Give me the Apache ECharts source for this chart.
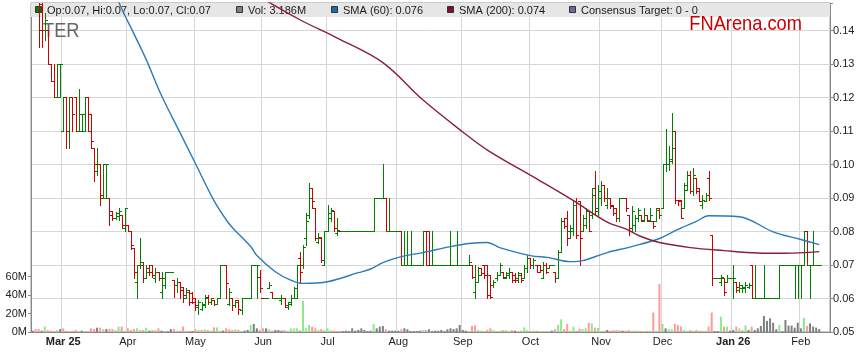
<!DOCTYPE html>
<html><head><meta charset="utf-8">
<script src="https://cdn.jsdelivr.net/npm/echarts@6/dist/echarts.min.js"></script>
<style>html,body{margin:0;padding:0;background:#fff}#c{width:859px;height:363px}</style>
</head><body><div id="c"></div>
<script>
// ---------- data ----------
const START_DATE = '2025-02-17';   // first weekday on the axis
const N_DAYS = 260;                // weekdays on the axis (last 3 empty)
const monthLabels = {
  '2025-03': 'Mar 25', '2025-04': 'Apr', '2025-05': 'May', '2025-06': 'Jun',
  '2025-07': 'Jul', '2025-08': 'Aug', '2025-09': 'Sep', '2025-10': 'Oct',
  '2025-11': 'Nov', '2025-12': 'Dec', '2026-01': 'Jan 26', '2026-02': 'Feb'
};
const boldMonths = ['Mar 25', 'Jan 26'];

// [open, high, low, close]
const ohlc = [
[0.160,0.165,0.155,0.158],[0.158,0.160,0.150,0.152],[0.152,0.155,0.135,0.140],[0.148,0.150,0.135,0.140],[0.140,0.1453,0.1373,0.143],
[0.140,0.140,0.130,0.130],[0.130,0.130,0.125,0.125],[0.125,0.130,0.120,0.120],[0.120,0.130,0.120,0.130],[0.120,0.130,0.120,0.130],
[0.110,0.120,0.110,0.120],[0.120,0.120,0.105,0.110],[0.110,0.120,0.105,0.120],[0.120,0.120,0.110,0.115],[0.120,0.120,0.110,0.110],
[0.110,0.1225,0.110,0.115],[0.110,0.115,0.110,0.115],[0.110,0.120,0.110,0.120],[0.120,0.120,0.110,0.110],[0.115,0.115,0.105,0.107],
[0.105,0.105,0.095,0.100],[0.098,0.105,0.097,0.100],[0.100,0.100,0.088,0.091],[0.090,0.100,0.090,0.100],[0.090,0.100,0.090,0.100],
[0.090,0.090,0.082,0.085],[0.086,0.086,0.0835,0.084],[0.084,0.0858,0.0838,0.0855],[0.0845,0.087,0.0835,0.086],[0.085,0.085,0.081,0.082],
[0.081,0.087,0.080,0.087],[0.082,0.082,0.080,0.080],[0.080,0.080,0.0748,0.076],[0.075,0.075,0.066,0.068],[0.065,0.070,0.060,0.070],
[0.070,0.078,0.069,0.071],[0.070,0.071,0.065,0.066],[0.066,0.070,0.066,0.068],[0.069,0.070,0.067,0.068],[0.070,0.070,0.0665,0.067],
[0.066,0.069,0.065,0.068],[0.068,0.068,0.0655,0.066],[0.062,0.068,0.060,0.066],[0.064,0.068,0.063,0.068],[0.068,0.068,0.068,0.068],
[0.068,0.068,0.068,0.068],[0.0655,0.0655,0.0605,0.064],[0.064,0.066,0.062,0.065],[0.065,0.065,0.060,0.0625],[0.0635,0.0635,0.059,0.061],
[0.060,0.063,0.060,0.062],[0.0625,0.0625,0.058,0.059],[0.0615,0.0618,0.0588,0.059],[0.060,0.060,0.0565,0.058],[0.0575,0.0595,0.0555,0.059],
[0.057,0.059,0.0565,0.0585],[0.058,0.061,0.0575,0.060],[0.0605,0.061,0.0585,0.059],[0.059,0.060,0.0585,0.060],[0.0595,0.0595,0.058,0.0585],
[0.0585,0.060,0.0585,0.060],[0.060,0.070,0.060,0.070],[0.070,0.070,0.070,0.070],[0.070,0.070,0.060,0.0645],[0.0585,0.063,0.058,0.062],
[0.060,0.060,0.0565,0.058],[0.058,0.0595,0.0575,0.059],[0.0595,0.0595,0.0555,0.057],[0.0565,0.060,0.0555,0.060],[0.060,0.060,0.060,0.060],
[0.060,0.060,0.060,0.060],[0.060,0.070,0.060,0.070],[0.070,0.070,0.070,0.070],[0.070,0.070,0.060,0.070],[0.0665,0.0685,0.062,0.063],
[0.060,0.060,0.060,0.060],[0.060,0.060,0.060,0.060],[0.063,0.065,0.063,0.064],[0.062,0.062,0.060,0.060],[0.060,0.060,0.060,0.060],
[0.060,0.060,0.060,0.060],[0.0595,0.061,0.0585,0.060],[0.060,0.060,0.0575,0.058],[0.0575,0.059,0.057,0.0585],[0.059,0.061,0.058,0.060],
[0.060,0.0635,0.060,0.063],[0.060,0.070,0.060,0.070],[0.072,0.074,0.065,0.068],[0.070,0.076,0.069,0.0755],[0.078,0.0855,0.076,0.083],
[0.085,0.0945,0.084,0.090],[0.093,0.093,0.087,0.089],[0.087,0.087,0.0775,0.078],[0.077,0.0795,0.0765,0.0785],[0.078,0.0785,0.071,0.0715],
[0.070,0.080,0.070,0.080],[0.080,0.088,0.080,0.0855],[0.084,0.087,0.083,0.0865],[0.086,0.086,0.080,0.081],[0.0795,0.084,0.079,0.0805],
[0.080,0.080,0.080,0.080],[0.080,0.080,0.080,0.080],[0.080,0.080,0.080,0.080],[0.080,0.080,0.080,0.080],[0.080,0.080,0.080,0.080],
[0.080,0.080,0.080,0.080],[0.080,0.080,0.080,0.080],[0.080,0.080,0.080,0.080],[0.080,0.080,0.080,0.080],[0.080,0.080,0.080,0.080],
[0.080,0.080,0.080,0.080],[0.080,0.090,0.080,0.090],[0.090,0.090,0.090,0.090],[0.090,0.090,0.090,0.090],[0.090,0.100,0.090,0.090],
[0.090,0.090,0.080,0.080],[0.080,0.090,0.080,0.080],[0.080,0.080,0.080,0.080],[0.080,0.080,0.080,0.080],[0.080,0.080,0.080,0.080],
[0.080,0.080,0.070,0.070],[0.070,0.080,0.070,0.070],[0.070,0.080,0.070,0.070],[0.070,0.080,0.070,0.070],[0.070,0.070,0.070,0.070],
[0.070,0.070,0.070,0.070],[0.070,0.070,0.070,0.070],[0.070,0.080,0.070,0.080],[0.080,0.080,0.070,0.070],[0.080,0.080,0.070,0.070],
[0.070,0.080,0.070,0.070],[0.070,0.070,0.070,0.070],[0.070,0.070,0.070,0.070],[0.070,0.070,0.070,0.070],[0.070,0.070,0.070,0.070],
[0.070,0.070,0.070,0.070],[0.070,0.080,0.070,0.070],[0.070,0.070,0.070,0.070],[0.070,0.080,0.070,0.070],[0.070,0.070,0.070,0.070],
[0.070,0.070,0.070,0.070],[0.070,0.070,0.070,0.070],[0.070,0.073,0.070,0.071],[0.070,0.070,0.066,0.0665],[0.062,0.070,0.060,0.065],
[0.065,0.0695,0.065,0.067],[0.069,0.069,0.067,0.0675],[0.070,0.070,0.066,0.067],[0.070,0.070,0.060,0.061],[0.067,0.067,0.060,0.0605],
[0.064,0.0655,0.0635,0.065],[0.066,0.068,0.0655,0.067],[0.067,0.0705,0.067,0.070],[0.068,0.068,0.066,0.0665],[0.066,0.068,0.066,0.0675],
[0.067,0.069,0.066,0.068],[0.068,0.068,0.065,0.0655],[0.067,0.0675,0.065,0.0655],[0.066,0.068,0.065,0.0675],[0.067,0.0675,0.065,0.0655],
[0.066,0.070,0.066,0.069],[0.069,0.073,0.068,0.072],[0.072,0.072,0.069,0.070],[0.070,0.072,0.069,0.0715],[0.070,0.070,0.068,0.068],
[0.070,0.070,0.068,0.0685],[0.066,0.071,0.066,0.070],[0.070,0.0705,0.0675,0.068],[0.069,0.070,0.069,0.070],[0.070,0.070,0.070,0.070],
[0.068,0.068,0.065,0.066],[0.066,0.0745,0.066,0.074],[0.074,0.084,0.074,0.083],[0.083,0.084,0.081,0.0815],[0.084,0.086,0.076,0.078],
[0.080,0.082,0.078,0.081],[0.080,0.089,0.079,0.088],[0.089,0.090,0.078,0.079],[0.089,0.089,0.070,0.078],[0.080,0.085,0.080,0.084],
[0.082,0.087,0.081,0.086],[0.086,0.086,0.080,0.080],[0.085,0.093,0.084,0.091],[0.093,0.098,0.085,0.086],[0.087,0.094,0.085,0.092],
[0.090,0.095,0.088,0.094],[0.094,0.094,0.089,0.090],[0.088,0.093,0.087,0.090],[0.090,0.090,0.087,0.0875],[0.088,0.088,0.085,0.0855],
[0.087,0.087,0.083,0.084],[0.084,0.090,0.083,0.090],[0.090,0.090,0.090,0.090],[0.090,0.090,0.086,0.087],[0.085,0.085,0.079,0.081],
[0.080,0.0875,0.0805,0.086],[0.082,0.085,0.080,0.084],[0.084,0.087,0.083,0.0865],[0.085,0.085,0.083,0.0835],[0.083,0.087,0.083,0.085],
[0.085,0.085,0.083,0.0835],[0.083,0.087,0.083,0.085],[0.083,0.083,0.081,0.0815],[0.083,0.087,0.083,0.0865],[0.087,0.087,0.084,0.085],
[0.087,0.100,0.087,0.100],[0.100,0.1105,0.098,0.100],[0.100,0.1055,0.0985,0.1015],[0.101,0.1155,0.1005,0.105],[0.110,0.110,0.0885,0.0895],
[0.0895,0.0895,0.088,0.089],[0.0895,0.0895,0.084,0.084],[0.087,0.0945,0.087,0.094],[0.0925,0.098,0.0925,0.097],[0.097,0.098,0.0915,0.092],
[0.092,0.099,0.091,0.097],[0.096,0.096,0.0915,0.092],[0.093,0.093,0.089,0.089],[0.088,0.091,0.087,0.0895],[0.089,0.0915,0.0895,0.091],
[0.096,0.098,0.0895,0.090],[0.079,0.079,0.064,0.066],[0.066,0.066,0.066,0.066],[0.066,0.066,0.066,0.066],[0.065,0.067,0.064,0.0665],
[0.066,0.066,0.061,0.062],[0.065,0.067,0.065,0.066],[0.066,0.066,0.066,0.066],[0.066,0.070,0.060,0.066],[0.065,0.065,0.062,0.0635],
[0.0625,0.065,0.062,0.064],[0.063,0.064,0.062,0.0635],[0.063,0.065,0.062,0.064],[0.0635,0.0645,0.063,0.064],[0.070,0.070,0.060,0.060],
[0.060,0.070,0.060,0.060],[0.060,0.060,0.060,0.060],[0.060,0.060,0.060,0.060],[0.060,0.070,0.060,0.060],[0.060,0.060,0.060,0.060],
[0.060,0.060,0.060,0.060],[0.060,0.060,0.060,0.060],[0.060,0.060,0.060,0.060],[0.060,0.070,0.060,0.070],[0.070,0.070,0.070,0.070],
[0.070,0.070,0.070,0.070],[0.070,0.070,0.070,0.070],[0.070,0.070,0.070,0.070],[0.070,0.070,0.060,0.070],[0.070,0.070,0.060,0.070],
[0.070,0.070,0.060,0.070],[0.070,0.080,0.070,0.080],[0.080,0.080,0.070,0.070],[0.070,0.070,0.060,0.070],[0.070,0.080,0.070,0.070],
[0.070,0.070,0.070,0.070],[0.070,0.070,0.070,0.070]
];

// volume in millions, one per trading day
const volumeM = [
1.4,3.2,3.2,1.4,5.8,2.2,1.4,1,2.2,3.2,
4,1.4,1,1.4,2.2,0.8,1.4,0.8,1,4,
3.2,4.7,4.7,3.2,3.2,3.2,3.2,2.2,5.8,5.8,
1.4,4,2.2,3.2,4,2.2,2.2,4.7,1.4,2.2,
2.2,4,1.4,1,0.8,3.2,3.2,1.4,1.4,5.8,
1.4,1.4,1,3,2.2,2.2,3,2.2,1.5,5,
5,1.4,1.5,4,3,2.2,3,2.2,1.2,1.4,
2.2,7.6,8.7,4,2.2,4,4,3,1.5,2.2,
2.2,1.4,2.2,1.4,4,4,4,2,34,4,
7.6,5.8,4,2.2,3.2,2,4,2,1.4,1,
1.4,1,1.4,1,4,1.4,2.2,4,2.2,1,
1.4,8.7,4,5.8,6.5,3,1.4,1.4,1.4,1.4,
3,4,3,1,1,1,1.4,2.2,2.2,3,
1,1.4,1.4,2.2,1,3,4,3.2,4,7.6,
2.2,1.4,1,6.5,7.2,2.2,1.4,1,2.2,4,
2.2,1,1.4,2.2,2.2,1.4,2.2,1.4,1,1.4,
5,2.2,1,1.4,1.4,1,1,1,1,1.4,
3,7.6,13.7,3.2,8.7,1.4,5.8,1.4,3.5,3.2,
4,10,9.4,4.7,4.4,1,1.4,2.2,1.4,2.2,
2.2,2.2,1.4,1.4,2.2,1.4,1.4,1.4,1,1,
1,1.4,21,1.4,52,8.7,4,3,3,8.7,
7.6,5.8,2.2,1.4,2.2,1.4,2.2,1.4,1.4,1.4,
5.8,21,1,1,16.6,5.8,5.8,1.4,2.2,5.8,
4,2.2,7.2,2.2,5.8,2.2,4,6.5,17.3,12,
14.8,10,3,7.6,1,13,6.9,6.9,4.7,10,
4,15.5,6.5,9.4,5.8,4.7,3.186
];

// moving averages: trading-day index and value
const sma60Days = [27,29,33,37,42,48,53,59,63,65,71,73,79,84,88,96,106,110,114,120,127,136,142,148,152,162,168,175,179,187,195,204,210,216,220,230,241,250,256];
const sma60Vals = [0.1510,0.1465,0.1390,0.1313,0.1205,0.1095,0.1003,0.0893,0.0835,0.0812,0.0755,0.0728,0.0680,0.0655,0.0645,0.0650,0.0677,0.0688,0.0707,0.0725,0.0737,0.0755,0.0764,0.0767,0.0752,0.0728,0.0722,0.0710,0.0713,0.0737,0.0755,0.0779,0.0806,0.0830,0.0847,0.0844,0.0799,0.0776,0.0761];
const sma200Days = [74,87,99,114,127,140,148,165,176,187,193,198,204,214,225,236,245,256];
const sma200Vals = [0.1500,0.1432,0.1378,0.1304,0.1193,0.1097,0.1043,0.0952,0.0892,0.0828,0.0808,0.0785,0.0767,0.0752,0.0743,0.0736,0.0735,0.0740];

const legendItems = [
  {text: 'Op:0.07, Hi:0.07, Lo:0.07, Cl:0.07', color: '#008000'},
  {text: 'Vol: 3.186M', color: '#808080'},
  {text: 'SMA (60): 0.076', color: '#1f6aa8'},
  {text: 'SMA (200): 0.074', color: '#7d0f2c'},
  {text: 'Consensus Target: 0 - 0', color: '#6a6a9c'}
];
const priceTicks = [0.05,0.06,0.07,0.08,0.09,0.10,0.11,0.12,0.13,0.14];
const volTicks = [0,20,40,60];

// ---------- build ----------
const FONT = '"Liberation Sans", Arial, sans-serif';
const dates = [];
{
  const d = new Date(START_DATE + 'T00:00:00Z');
  while (dates.length < N_DAYS) {
    const wd = d.getUTCDay();
    if (wd !== 0 && wd !== 6) dates.push(d.toISOString().slice(0, 10));
    d.setUTCDate(d.getUTCDate() + 1);
  }
}
const isMonthStart = dates.map((s, i) => i > 0 && s.slice(0, 7) !== dates[i - 1].slice(0, 7));

const UP = '#008000', DOWN = '#d00000';
const barColor = ohlc.map((r, i) => {
  if (r[3] > r[0]) return UP;
  if (r[3] < r[0]) return DOWN;
  const prev = i > 0 ? ohlc[i - 1][3] : r[3];
  return r[3] >= prev ? UP : DOWN;
});
const volData = volumeM.map((v, i) => {
  const prev = i > 0 ? ohlc[i - 1][3] : ohlc[i][3];
  const c = ohlc[i][3];
  const col = c > prev ? '#8fe88f' : (c < prev ? '#ff9a9a' : '#808080');
  return {value: [i, v], itemStyle: {color: col}};
});
const ohlcData = ohlc.map((r, i) => [i, r[0], r[1], r[2], r[3]]);

const chart = echarts.init(document.getElementById('c'), null, {renderer: 'canvas'});

const graphics = [
  {type: 'rect', z: 1, silent: true, shape: {x: 31, y: 3, width: 799, height: 14}, style: {fill: '#e6e6e6'}},
  {type: 'text', z: 1, silent: true, x: 43, y: 31, scaleX: 0.87,
   style: {text: 'TER', font: '21px ' + FONT, fill: 'rgba(75,75,75,0.85)', textVerticalAlign: 'middle'}},
  {type: 'text', z: 1, silent: true, x: 802, y: 24.5, scaleX: 0.87,
   style: {text: 'FNArena.com', font: '21px ' + FONT, fill: '#cc0000', textAlign: 'right', textVerticalAlign: 'middle'}}
];
const legendX = [35, 236, 331, 447, 569];
legendItems.forEach((it, k) => {
  graphics.push({type: 'rect', z: 1, silent: true, shape: {x: legendX[k] + 0.5, y: 6.5, width: 6, height: 6},
    style: {fill: it.color, stroke: '#333', lineWidth: 1}});
  graphics.push({type: 'text', z: 1, silent: true, x: legendX[k] + 12, y: 10.5,
    style: {text: it.text, font: '11px ' + FONT, fill: '#1a1a1a', textVerticalAlign: 'middle'}});
});

chart.setOption({
  animation: false,
  backgroundColor: '#fff',
  textStyle: {fontFamily: FONT},
  grid: {left: 31, right: 29, top: 3, bottom: 31, show: true, borderColor: '#999', borderWidth: 1, backgroundColor: '#fff'},
  xAxis: {
    type: 'category', data: dates, boundaryGap: true,
    axisLine: {lineStyle: {color: '#888'}},
    axisTick: {show: false},
    axisLabel: {
      interval: (i) => isMonthStart[i],
      margin: 4, fontSize: 11, color: '#222', fontFamily: FONT,
      formatter: (v) => {
        const t = monthLabels[v.slice(0, 7)] || '';
        return boldMonths.includes(t) ? '{b|' + t + '}' : t;
      },
      rich: {b: {fontWeight: 'bold', fontSize: 11, color: '#222', fontFamily: FONT}}
    },
    splitLine: {show: true, interval: (i) => isMonthStart[i], lineStyle: {color: '#d6d6d6', width: 1}}
  },
  yAxis: [
    {
      type: 'value', position: 'right', min: 0.05, max: 0.1482, interval: 0.01,
      axisLine: {show: true, lineStyle: {color: '#888'}},
      axisTick: {show: true, length: 3, lineStyle: {color: '#888'}},
      axisLabel: {margin: 3, fontSize: 11, color: '#222', fontFamily: FONT,
        formatter: (v) => (v > 0.145 ? '' : v.toFixed(2)), customValues: priceTicks},
      splitLine: {show: true, lineStyle: {color: '#d6d6d6', width: 1}}
    },
    {
      type: 'value', position: 'left', min: 0, max: 356, interval: 20,
      axisLine: {show: true, lineStyle: {color: '#888'}},
      axisTick: {show: true, length: 3, lineStyle: {color: '#888'}, customValues: volTicks},
      axisLabel: {margin: 4, fontSize: 11, color: '#222', fontFamily: FONT,
        formatter: (v) => (v > 60 ? '' : v + 'M'), customValues: volTicks},
      splitLine: {show: false}
    }
  ],
  graphic: graphics,
  series: [
    {
      type: 'bar', name: 'Vol', yAxisIndex: 1, barWidth: 2, data: volData, z: 2, silent: true
    },
    {
      type: 'custom', name: 'OHLC', yAxisIndex: 0, clip: true, z: 4, silent: true,
      encode: {x: 0, y: [1, 2, 3, 4]},
      data: ohlcData,
      renderItem: function (params, api) {
        const i = api.value(0);
        const pO = api.coord([i, api.value(1)]);
        const pH = api.coord([i, api.value(2)]);
        const pL = api.coord([i, api.value(3)]);
        const pC = api.coord([i, api.value(4)]);
        const xi = Math.round(pO[0]);
        const x = xi + 0.5;
        const yH = Math.round(pH[1]), yL = Math.round(pL[1]);
        const yO = Math.round(pO[1]) + 0.5, yC = Math.round(pC[1]) + 0.5;
        const st = {stroke: barColor[params.dataIndex], lineWidth: 1};
        const kids = [
          {type: 'line', shape: {x1: xi - 2, y1: yO, x2: xi + 1, y2: yO}, style: st},
          {type: 'line', shape: {x1: xi, y1: yC, x2: xi + 3, y2: yC}, style: st}
        ];
        if (yL > yH) kids.push({type: 'line', shape: {x1: x, y1: yH, x2: x, y2: yL + 1}, style: st});
        return {type: 'group', children: kids};
      }
    },
    {
      type: 'line', name: 'SMA60', yAxisIndex: 0, showSymbol: false, symbol: 'none', smooth: 0.35, z: 5, silent: true,
      data: sma60Days.map((d, k) => [d, sma60Vals[k]]),
      lineStyle: {color: '#2b7bbb', width: 1.4}
    },
    {
      type: 'line', name: 'SMA200', yAxisIndex: 0, showSymbol: false, symbol: 'none', smooth: 0.35, z: 5, silent: true,
      data: sma200Days.map((d, k) => [d, sma200Vals[k]]),
      lineStyle: {color: '#8b1d3d', width: 1.4}
    }
  ]
});
</script>
</body></html>
